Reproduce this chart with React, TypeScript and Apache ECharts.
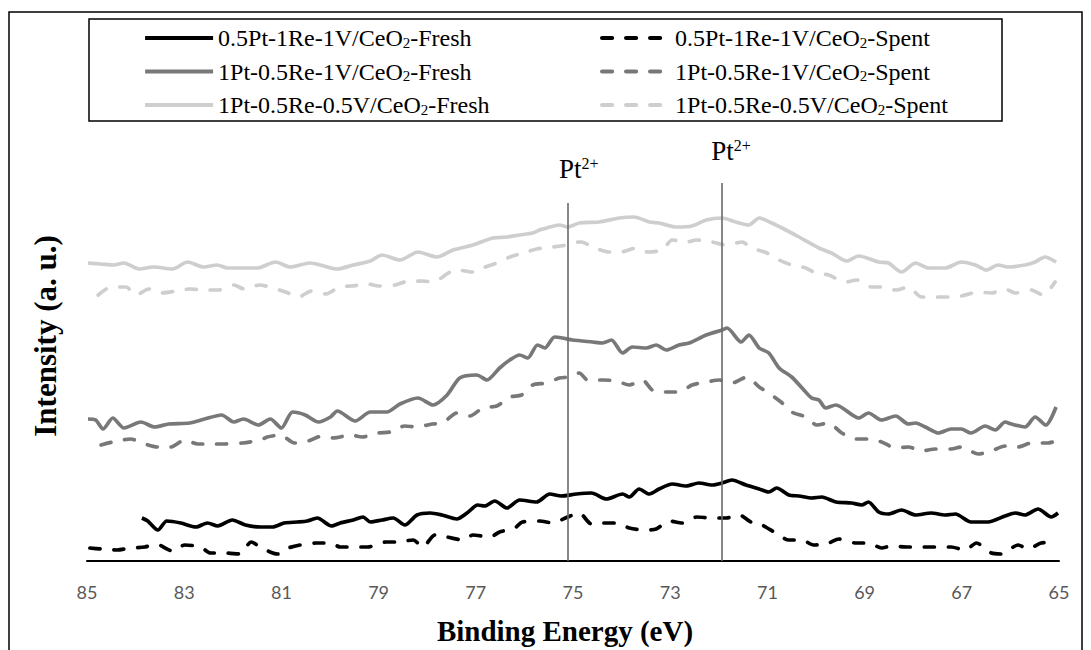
import React, { useEffect, useRef } from "react";
import * as echarts from "echarts";

// Binding energy (eV) / intensity (a. u.) pairs
const fresh05Pt1Re1V: number[][] = [
  [83.87,43],[83.75,40],[83.54,31],[83.36,40],[83.07,38],[82.76,34],[82.52,38],[82.31,35],[82.01,41],[81.74,36],
  [81.43,34],[81.18,34],[80.94,38],[80.67,39],[80.47,40],[80.26,43],[79.97,35],[79.79,38],[79.52,41],[79.32,44],
  [79.17,39],[78.93,41],[78.70,43],[78.46,36],[78.21,46],[77.94,48],[77.70,46],[77.39,42],[77.18,48],[76.96,56],
  [76.82,55],[76.61,60],[76.36,53],[76.10,61],[75.75,59],[75.48,67],[75.24,65],[74.93,67],[74.62,68],[74.31,62],
  [73.98,67],[73.84,64],[73.64,72],[73.43,67],[73.23,72],[72.96,77],[72.67,75],[72.41,78],[72.14,76],[71.93,78],
  [71.73,81],[71.44,76],[71.17,72],[70.97,69],[70.81,73],[70.56,66],[70.35,65],[70.09,63],[69.88,64],[69.59,59],
  [69.27,58],[69.06,56],[68.92,59],[68.71,49],[68.51,47],[68.24,51],[67.95,46],[67.63,48],[67.34,46],[67.13,47],
  [66.81,39],[66.46,39],[66.11,45],[65.90,48],[65.70,46],[65.43,52],[65.16,44],[65.02,48]
];
const spent05Pt1Re1V: number[][] = [
  [84.94,13],[84.71,12],[84.38,11],[84.10,13],[83.81,14],[83.58,17],[83.24,10],[82.99,16],[82.66,14],[82.46,8],
  [82.13,8],[81.86,7],[81.62,19],[81.41,13],[81.08,7],[80.86,13],[80.51,17],[80.28,18],[79.99,18],[79.79,14],
  [79.48,14],[79.22,14],[78.85,19],[78.62,19],[78.29,21],[78.09,14],[77.84,26],[77.59,24],[77.27,21],[77.06,26],
  [76.71,24],[76.51,29],[76.20,33],[76.04,39],[75.69,40],[75.42,38],[75.11,44],[74.87,48],[74.62,37],[74.42,38],
  [74.11,38],[73.84,33],[73.53,31],[73.29,32],[73.02,40],[72.75,38],[72.45,44],[72.14,43],[71.85,43],[71.58,46],
  [71.34,39],[71.11,36],[70.83,28],[70.56,21],[70.29,21],[70.05,16],[69.74,18],[69.53,22],[69.18,18],[68.92,18],
  [68.65,13],[68.45,15],[68.10,14],[67.83,14],[67.48,14],[67.22,14],[66.93,11],[66.70,18],[66.39,8],[66.19,7],
  [65.84,16],[65.64,12],[65.37,18],[65.06,19]
];
const fresh1Pt05Re1V: number[][] = [
  [84.98,142],[84.82,141],[84.67,132],[84.47,143],[84.24,133],[83.89,139],[83.61,134],[83.32,137],[82.89,138],[82.58,142],
  [82.23,146],[81.98,139],[81.78,142],[81.47,136],[81.23,142],[81.00,133],[80.77,149],[80.51,146],[80.24,139],[79.99,144],
  [79.85,150],[79.48,140],[79.17,149],[78.83,149],[78.56,157],[78.19,163],[77.88,156],[77.59,166],[77.33,183],[76.98,186],
  [76.77,181],[76.51,193],[76.30,201],[76.10,206],[75.93,203],[75.73,216],[75.58,213],[75.38,224],[75.22,223],[75.01,221],
  [74.60,219],[74.39,218],[74.21,221],[73.98,208],[73.78,214],[73.49,213],[73.29,216],[73.08,211],[72.82,216],[72.61,218],
  [72.26,226],[71.93,231],[71.83,233],[71.54,219],[71.38,226],[71.17,213],[70.97,208],[70.76,193],[70.50,184],[70.25,171],
  [70.09,163],[69.94,161],[69.80,153],[69.59,156],[69.12,143],[68.92,148],[68.65,141],[68.36,145],[68.10,137],[67.95,138],
  [67.75,134],[67.48,128],[67.22,132],[67.01,132],[66.81,128],[66.52,135],[66.31,131],[66.11,139],[65.98,137],[65.70,134],
  [65.49,144],[65.27,136],[65.06,154]
];
const spent1Pt05Re1V: number[][] = [
  [84.71,116],[84.47,119],[84.10,122],[83.87,118],[83.54,114],[83.28,114],[82.99,121],[82.72,117],[82.39,117],[82.17,117],
  [81.80,118],[81.43,121],[81.29,124],[81.02,126],[80.73,118],[80.45,120],[80.16,125],[79.93,123],[79.58,126],[79.34,124],
  [79.01,128],[78.76,129],[78.46,135],[78.21,134],[77.90,137],[77.68,138],[77.39,148],[77.12,145],[76.86,153],[76.57,155],
  [76.30,164],[76.06,166],[75.83,176],[75.54,178],[75.28,183],[75.07,184],[74.87,188],[74.70,181],[74.39,181],[74.11,180],
  [73.84,176],[73.57,181],[73.37,171],[73.08,169],[72.82,169],[72.55,176],[72.26,179],[71.99,181],[71.73,178],[71.42,184],
  [71.17,174],[70.97,168],[70.72,159],[70.50,149],[70.21,144],[69.98,136],[69.74,138],[69.47,128],[69.18,122],[68.92,122],
  [68.65,119],[68.36,113],[68.10,114],[67.83,110],[67.54,112],[67.22,112],[67.01,114],[66.66,107],[66.39,110],[66.11,115],
  [65.84,114],[65.57,118],[65.23,118],[65.06,120]
];
const fresh1Pt05Re05V: number[][] = [
  [84.98,298],[84.71,297],[84.45,296],[84.24,298],[83.93,292],[83.63,294],[83.24,292],[82.93,299],[82.60,294],[82.32,296],
  [82.11,293],[81.79,293],[81.50,293],[81.12,299],[80.82,294],[80.41,298],[80.20,296],[79.85,292],[79.52,296],[79.17,300],
  [78.93,306],[78.56,301],[78.19,309],[77.80,304],[77.47,311],[77.06,316],[76.65,323],[76.36,324],[76.10,326],[75.83,328],
  [75.69,331],[75.54,333],[75.28,336],[75.11,334],[74.87,338],[74.46,339],[74.05,343],[73.74,344],[73.43,339],[73.23,338],
  [72.88,334],[72.55,335],[72.26,341],[71.93,343],[71.65,339],[71.38,336],[71.17,343],[70.91,338],[70.62,331],[70.35,324],
  [69.94,313],[69.68,308],[69.37,300],[69.12,305],[68.71,299],[68.51,298],[68.24,289],[67.95,298],[67.69,293],[67.34,293],
  [67.01,299],[66.72,296],[66.50,291],[66.25,296],[66.05,294],[65.70,296],[65.49,299],[65.29,304],[65.06,299]
];
const spent1Pt05Re05V: number[][] = [
  [84.77,266],[84.51,274],[84.20,274],[83.99,266],[83.73,272],[83.48,268],[83.15,270],[82.89,272],[82.52,271],[82.29,271],
  [81.98,276],[81.76,272],[81.45,276],[81.18,273],[80.86,268],[80.65,264],[80.38,270],[80.08,267],[79.81,274],[79.56,275],
  [79.22,277],[79.01,275],[78.66,276],[78.46,279],[78.09,280],[77.88,279],[77.53,289],[77.37,291],[77.06,289],[76.86,293],
  [76.51,299],[76.30,304],[75.95,309],[75.75,312],[75.42,314],[75.13,316],[75.03,318],[74.83,319],[74.60,314],[74.25,309],
  [74.01,309],[73.70,313],[73.47,309],[73.16,311],[72.96,321],[72.65,319],[72.47,321],[72.14,319],[71.85,316],[71.52,319],
  [71.32,313],[71.01,308],[70.76,301],[70.50,296],[70.21,293],[70.01,288],[69.74,286],[69.39,279],[69.16,281],[68.86,274],
  [68.65,274],[68.36,271],[68.10,274],[67.83,264],[67.54,264],[67.22,264],[67.01,265],[66.66,269],[66.39,268],[66.11,272],
  [65.90,268],[65.57,271],[65.33,266],[65.08,279]
];

const seriesNames = [
  "0.5Pt-1Re-1V/CeO2-Fresh",
  "0.5Pt-1Re-1V/CeO2-Spent",
  "1Pt-0.5Re-1V/CeO2-Fresh",
  "1Pt-0.5Re-1V/CeO2-Spent",
  "1Pt-0.5Re-0.5V/CeO2-Fresh",
  "1Pt-0.5Re-0.5V/CeO2-Spent",
];
const seriesData = [fresh05Pt1Re1V, spent05Pt1Re1V, fresh1Pt05Re1V, spent1Pt05Re1V, fresh1Pt05Re05V, spent1Pt05Re05V];
const seriesColors = ["#000000", "#000000", "#787878", "#787878", "#cecece", "#cecece"];
const seriesDashed = [false, true, false, true, false, true];

// Pt2+ reference lines: energy and height of line top
const peakEnergies = [75.1, 71.93];
const peakTops = [358, 378];
const peakLabelPos = [[74.88, 392], [71.75, 410]];

const xTickLabels = [65, 67, 69, 71, 73, 75, 77, 79, 81, 83, 85];

const serif = "'Liberation Serif', 'Times New Roman', serif";

export default function App() {
  const ref = useRef<HTMLDivElement>(null);
  useEffect(() => {
    document.body.style.margin = "0";
    if (!ref.current) return;
    const chart = echarts.init(ref.current, null, { renderer: "svg" });

    const legendRich = {
      n: { fontFamily: serif, fontSize: 24, color: "#000", lineHeight: 24 },
      sub: { fontFamily: serif, fontSize: 15, color: "#000", lineHeight: 12, verticalAlign: "bottom" },
    };
    const legendFmt = (name: string) => {
      const i = name.indexOf("CeO2");
      return "{n|" + name.slice(0, i + 3) + "}{sub|2}{n|" + name.slice(i + 4) + "}";
    };
    const legendCommon = {
      orient: "vertical",
      top: 26,
      padding: 0,
      itemWidth: 68,
      itemHeight: 14,
      itemGap: 9.5,
      formatter: legendFmt,
      itemStyle: { color: "transparent", borderWidth: 0, opacity: 0 },
      lineStyle: { width: 4.2 },
      textStyle: { fontFamily: serif, fontSize: 24, color: "#000", lineHeight: 24, rich: legendRich },
      selectedMode: false,
    };

    const series: any[] = seriesNames.map((name, i) => ({
      name,
      type: "line",
      data: seriesData[i],
      symbol: "none",
      smooth: 0.25,
      z: 3,
      lineStyle: {
        color: seriesColors[i],
        width: 3.7,
        type: seriesDashed[i] ? [10, 14] : "solid",
        cap: seriesDashed[i] ? "round" : "butt",
        join: "round",
      },
      itemStyle: { color: seriesColors[i] },
    }));

    series[0].markLine = {
      silent: true,
      symbol: ["none", "none"],
      label: { show: false },
      lineStyle: { color: "#6a6a6a", width: 1.6, type: "solid" },
      data: peakEnergies.map((e, i) => [{ coord: [e, 0] }, { coord: [e, peakTops[i]] }]),
    };
    series[0].markPoint = {
      silent: true,
      symbol: "circle",
      symbolSize: 0,
      label: {
        show: true,
        position: "inside",
        formatter: "{a|Pt}{s|2+}",
        rich: {
          a: { fontFamily: serif, fontSize: 27, color: "#000", lineHeight: 28 },
          s: { fontFamily: serif, fontSize: 16, color: "#000", lineHeight: 14, verticalAlign: "top" },
        },
      },
      data: peakLabelPos.map((p) => ({ coord: p, value: "Pt2+" })),
    };

    chart.setOption({
      animation: false,
      backgroundColor: "#ffffff",
      grid: { left: 87, right: 32, top: 111, bottom: 89, outerBoundsMode: "none", containLabel: false },
      legend: [
        { ...legendCommon, left: 143, data: [seriesNames[0], seriesNames[2], seriesNames[4]] },
        { ...legendCommon, left: 600, data: [seriesNames[1], seriesNames[3], seriesNames[5]] },
      ],
      xAxis: {
        type: "value",
        min: 65,
        max: 85,
        interval: 1,
        inverse: true,
        name: "Binding Energy (eV)",
        nameLocation: "middle",
        nameGap: 55,
        nameTextStyle: {
          fontFamily: serif,
          fontSize: 29,
          fontWeight: "bold",
          color: "#000",
          padding: [0, 16, 0, 0],
        },
        axisLine: { show: true, lineStyle: { color: "#000", width: 2 } },
        axisTick: { show: false },
        splitLine: { show: false },
        axisLabel: {
          margin: 22,
          fontFamily: "Lato, 'Open Sans', sans-serif",
          fontSize: 18,
          color: "#595959",
          formatter: (v: number) => (xTickLabels.indexOf(Math.round(v)) >= 0 && Math.abs(v - Math.round(v)) < 1e-6 ? String(Math.round(v)) : ""),
        },
      },
      yAxis: {
        type: "value",
        min: 0,
        max: 450,
        name: "Intensity (a. u.)",
        nameLocation: "middle",
        nameGap: 26,
        nameRotate: 90,
        nameTextStyle: { fontFamily: serif, fontSize: 31, fontWeight: "bold", color: "#000" },
        axisLine: { show: false },
        axisTick: { show: false },
        axisLabel: { show: false },
        splitLine: { show: false },
      },
      graphic: [
        {
          type: "rect",
          shape: { x: 9, y: 12, width: 1073, height: 700 },
          style: { fill: "none", stroke: "#000", lineWidth: 1.5 },
          silent: true,
          z: -1,
        },
        {
          type: "rect",
          shape: { x: 89, y: 19, width: 913, height: 102 },
          style: { fill: "none", stroke: "#000", lineWidth: 1.5 },
          silent: true,
          z: -1,
        },
      ],
      series,
    });
    return () => chart.dispose();
  }, []);
  return <div ref={ref} style={{ width: 1091, height: 650 }} />;
}
